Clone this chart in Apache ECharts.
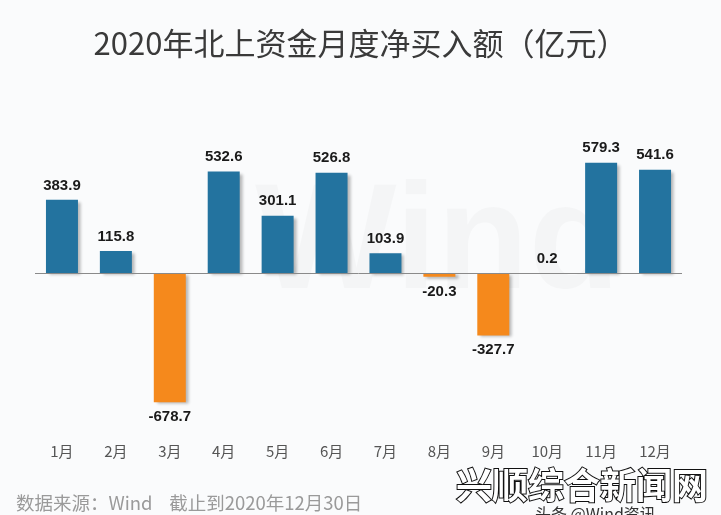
<!DOCTYPE html>
<html>
<head>
<meta charset="utf-8">
<script src="https://cdn.jsdelivr.net/npm/echarts@6/dist/echarts.min.js"></script>
<style>html,body{margin:0;padding:0;background:#fafbfc;}#c{width:721px;height:515px;}</style>
</head>
<body>
<div id="c"></div>
<script>
var months = ['1月','2月','3月','4月','5月','6月','7月','8月','9月','10月','11月','12月'];
var netBuy = [383.9, 115.8, -678.7, 532.6, 301.1, 526.8, 103.9, -20.3, -327.7, 0.2, 579.3, 541.6];
var titleText = '2020年北上资金月度净买入额（亿元）';
var footerText = '数据来源：Wind    截止到2020年12月30日';

var chart = echarts.init(document.getElementById('c'));
var FONT = '"Liberation Sans", Arial, "Noto Sans CJK SC", sans-serif';
chart.setOption({
  backgroundColor: '#fafbfc',
  animation: false,
  title: {
    text: titleText,
    left: 'center',
    top: 23,
    textStyle: { fontSize: 31, fontWeight: 'normal', color: '#3a3a3a', fontFamily: '"Noto Sans CJK SC", sans-serif' }
  },
  graphic: [
    { type: 'text', left: 255, top: 172, z: 0, style: { text: 'Wind', fontSize: 150, fontWeight: 'bold', fill: 'rgba(0,0,0,0.025)', fontFamily: FONT } },
    { type: 'text', left: 16, top: 494, style: { text: footerText, fontSize: 18.5, fill: '#9a9a9a', fontFamily: '"Noto Sans CJK SC", sans-serif' } },
    { type: 'text', left: 455, top: 466, style: { text: '兴顺综合新闻网', fontSize: 36, fontWeight: 'bold', fill: '#ffffff', stroke: '#111111', lineWidth: 2, fontFamily: '"Noto Sans CJK SC", sans-serif' } },
    { type: 'text', left: 535, top: 506, style: { text: '头条 @Wind资讯', fontSize: 16, fill: '#333333', fontFamily: '"Noto Sans CJK SC", sans-serif' } }
  ],
  grid: { left: 35, right: 39, top: 120.6, bottom: 515 - 425.4 },
  xAxis: {
    type: 'category', data: months,
    axisLine: { show: false, onZero: false }, axisTick: { show: false },
    axisLabel: { margin: 18, fontSize: 15, color: '#555555', fontFamily: '"Noto Sans CJK SC", sans-serif' }
  },
  yAxis: { type: 'value', min: -800, max: 800, show: false, splitLine: { show: false } },
  series: [{
    type: 'bar',
    data: netBuy.map(function (v) {
      return {
        value: v,
        itemStyle: { color: v >= 0 ? '#23739f' : '#f5891c' },
        label: { position: v >= 0 ? 'top' : 'bottom' }
      };
    }),
    barWidth: 32,
    itemStyle: { shadowColor: 'rgba(0,0,0,0.28)', shadowBlur: 3, shadowOffsetX: 3, shadowOffsetY: 2 },
    label: { show: true, distance: 7, fontSize: 15, fontWeight: 'bold', color: '#1a1a1a', fontFamily: FONT },
    markLine: {
      silent: true, symbol: 'none', label: { show: false },
      lineStyle: { color: '#8a8a8a', width: 1, type: 'solid' },
      data: [{ yAxis: 0 }]
    },
    z: 2
  }]
});
</script>
</body>
</html>
